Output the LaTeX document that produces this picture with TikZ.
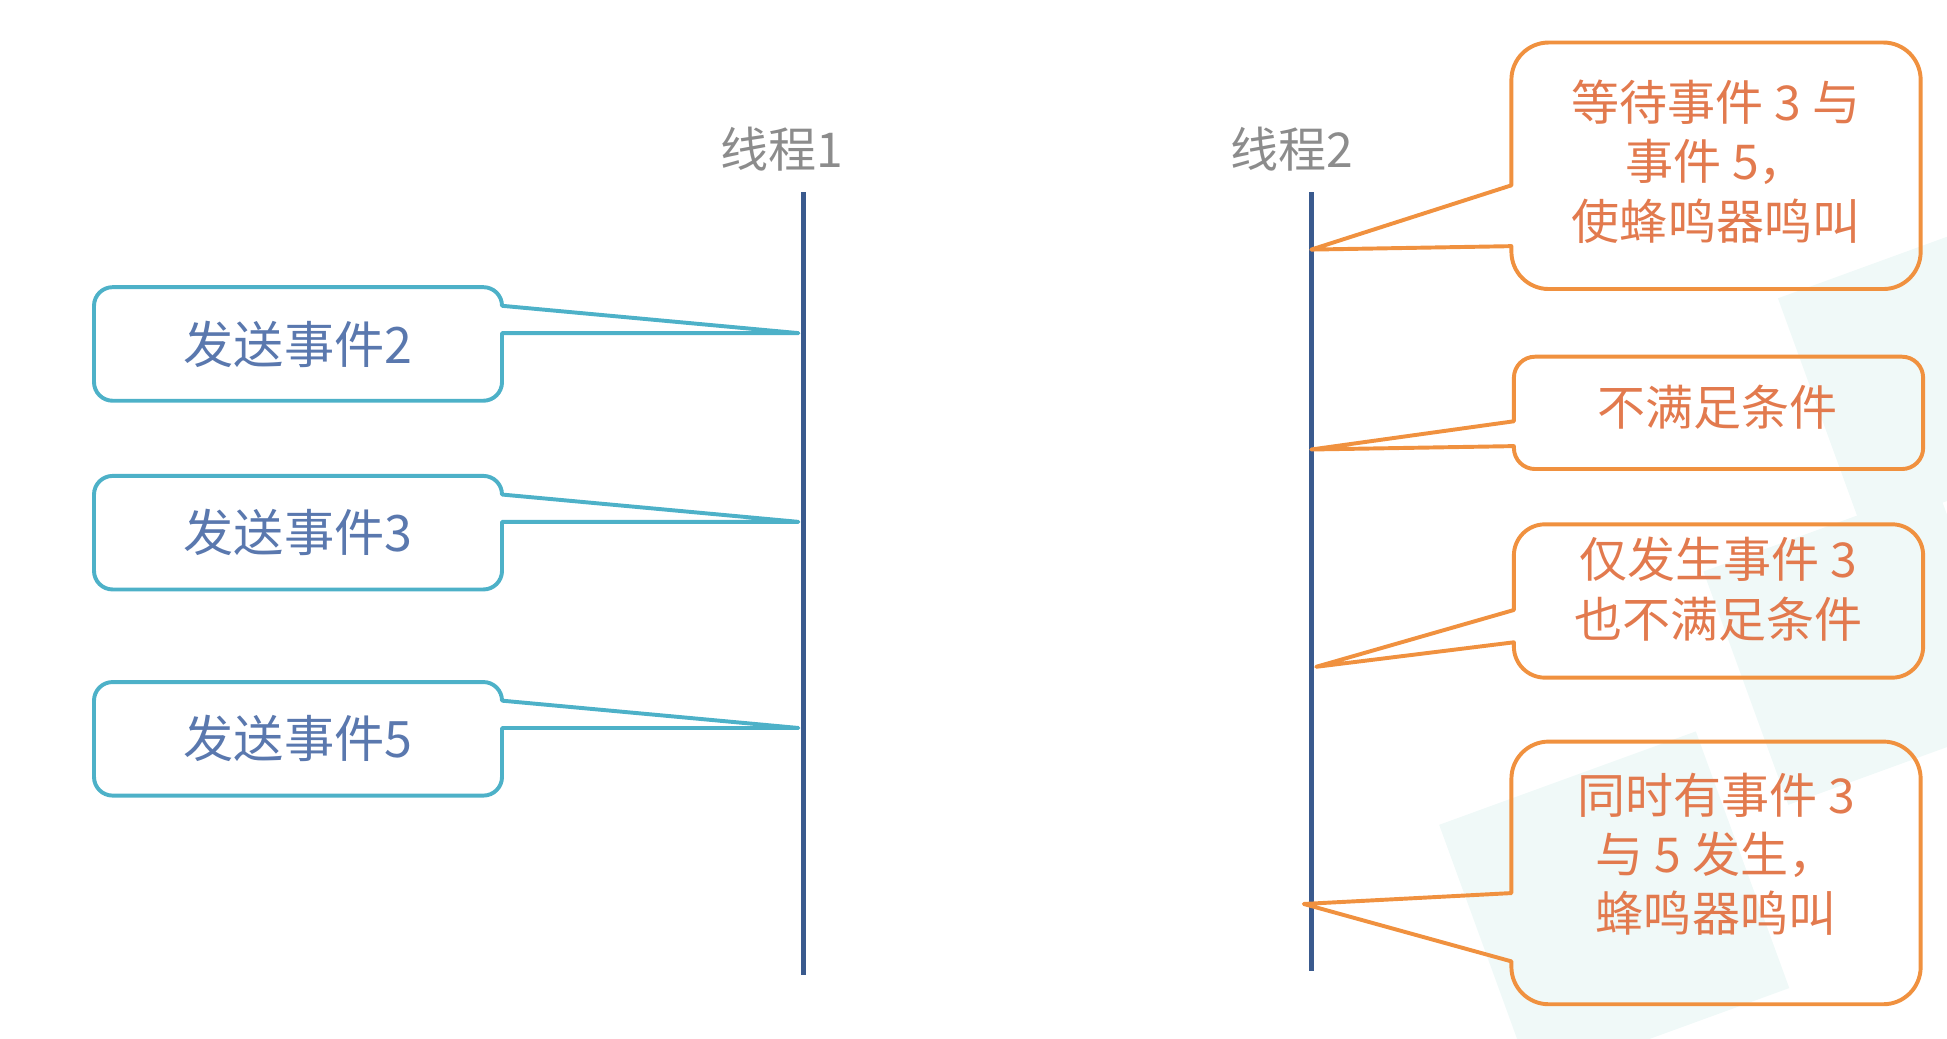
\documentclass[tikz,border=0pt]{standalone}
\usepackage{fontspec}
\setmainfont{Noto Sans CJK SC}
\usetikzlibrary{calc}
\definecolor{threadblue}{HTML}{3A5A8E}
\definecolor{labelgray}{HTML}{8C8C8C}
\definecolor{sendteal}{HTML}{4DB1C8}
\definecolor{sendink}{HTML}{5A78AE}
\definecolor{waitorange}{HTML}{F0913F}
\definecolor{waitink}{HTML}{E27A4E}
\definecolor{wmark}{HTML}{F0F9F8}

\begin{document}
\begin{tikzpicture}[x=0.01cm,y=-0.01cm,
  thread/.style={threadblue,line width=1.2pt},
  tlabel/.style={text=labelgray,font=\fontsize{11}{14}\selectfont},
  sendbox/.style={minimum width=3.27cm,minimum height=0.9cm,inner sep=0pt,text=sendink,font=\fontsize{11.5}{14}\selectfont},
  waitbox/.style={minimum width=3.28cm,inner sep=0pt},
  waittext/.style={text=waitink,align=center,font=\fontsize{11}{13.6}\selectfont},
  sendline/.style={draw=sendteal,line width=0.9pt,line join=round},
  waitline/.style={draw=waitorange,line width=0.9pt,line join=round}]
\useasboundingbox (0,0) rectangle (1568,836);

% faint background squares
\fill[wmark,rotate around={20:(1300,730)}] (1190,620) rectangle (1410,840);
\fill[wmark,rotate around={20:(1500,520)}] (1400,420) rectangle (1600,620);
\fill[wmark,rotate around={20:(1560,300)}] (1460,200) rectangle (1660,400);

% threads
\node[tlabel] (t1) at (630,120) {线程1};
\node[tlabel] (t2) at (1040,120) {线程2};
\coordinate (t1top) at (647,155);
\coordinate (t1bot) at (647,785);
\coordinate (t2top) at (1056,155);
\coordinate (t2bot) at (1056,782);
\draw[thread] (t1top) -- (t1bot);
\draw[thread] (t2top) -- (t2bot);

% thread 1: send events
\foreach \i/\y in {2/277,3/429,5/595}{
  \node[sendbox] (s\i) at (240,\y) {发送事件\i};
  \coordinate (p\i) at ($(t1top |- s\i.north)+(-4,37)$);
  \draw[sendline] (p\i) -- ($(s\i.north east)+(0,37)$) [rounded corners=0.15cm] -- (s\i.south east) -- (s\i.south west) -- (s\i.north west) -- (s\i.north east) [sharp corners] -- ($(s\i.north east)+(0,15)$) -- cycle;
}

% thread 2: wait for events
\node[waitbox,minimum height=1.97cm] (w1) at (1382,133.5) {};
\node[waittext] (w1t) at (1382,130) {等待事件 3 与\\事件 5，\\使蜂鸣器鸣叫};
\coordinate (q1) at (1056,201);
\draw[waitline] (q1) -- ($(w1.north west)+(0,164)$) [rounded corners=0.3cm] -- (w1.south west) -- (w1.south east) -- (w1.north east) -- (w1.north west) [sharp corners] -- ($(w1.north west)+(0,115)$) -- cycle;

\node[waitbox,minimum height=0.89cm] (w2) at (1384,332.5) {};
\node[waittext] (w2t) at (1383,328) {不满足条件};
\coordinate (q2) at (1056,362);
\draw[waitline] (q2) -- ($(w2.north west)+(0,72)$) [rounded corners=0.17cm] -- (w2.south west) -- (w2.south east) -- (w2.north east) -- (w2.north west) [sharp corners] -- ($(w2.north west)+(0,52)$) -- cycle;

\node[waitbox,minimum height=1.22cm] (w3) at (1384,484) {};
\node[waittext] (w3t) at (1384,474.5) {仅发生事件 3\\也不满足条件};
\coordinate (q3) at (1060,537);
\draw[waitline] (q3) -- ($(w3.north west)+(0,95)$) [rounded corners=0.25cm] -- (w3.south west) -- (w3.south east) -- (w3.north east) -- (w3.north west) [sharp corners] -- ($(w3.north west)+(0,69)$) -- cycle;

\node[waitbox,minimum height=2.1cm] (w4) at (1382,703) {};
\node[waittext] (w4t) at (1382,688) {同时有事件 3\\与 5 发生，\\蜂鸣器鸣叫};
\coordinate (q4) at (1050,728);
\draw[waitline] (q4) -- ($(w4.north west)+(0,177)$) [rounded corners=0.3cm] -- (w4.south west) -- (w4.south east) -- (w4.north east) -- (w4.north west) [sharp corners] -- ($(w4.north west)+(0,122)$) -- cycle;
\end{tikzpicture}
\end{document}
